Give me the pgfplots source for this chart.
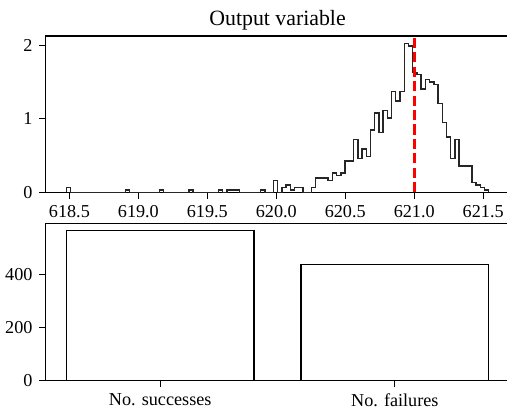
\documentclass[border=0pt]{standalone}
\usepackage{fontspec}
\setmainfont{Liberation Serif}
\usepackage{pgfplots}
\pgfplotsset{compat=1.18}
\begin{document}
\begin{tikzpicture}
\pgfplotsset{
  every axis/.append style={
    scale only axis,
    axis line style={line width=0.7pt},
    tick align=outside,
    major tick length=3.5pt,
    every tick/.style={black, line width=0.7pt},
    tick pos=left,
    tick label style={font=\fontsize{10}{12}\selectfont},
    /pgf/number format/assume math mode=true,
  }
}
\begin{axis}[
  at={(24.9pt,118.6pt)}, anchor=south west,
  width=255.5pt, height=86pt,
  xmin=618.325, xmax=621.693, ymin=0, ymax=2.126,
  xtick={618.5,619,619.5,620,620.5,621,621.5},
  xticklabel style={/pgf/number format/.cd, fixed, fixed zerofill, precision=1, 1000 sep={}},
  ytick={0,1,2},
  title={Output variable},
  title style={font=\fontsize{12}{14}\selectfont, at={(0.5,1)}, anchor=base, yshift=-0.5pt, inner sep=0pt},
]
\addplot[const plot, black!85, line width=0.8pt] coordinates {
(618.478,0) (618.478,0.065) (618.509,0) (618.907,0.033) (618.937,0)
(619.152,0.033) (619.182,0) (619.366,0.033) (619.397,0) (619.580,0.033)
(619.611,0) (619.642,0.033) (619.733,0) (619.887,0.033) (619.917,0)
(619.978,0.163) (620.009,0) (620.040,0.065) (620.070,0.098) (620.101,0.033)
(620.131,0.065) (620.193,0) (620.254,0.065) (620.285,0.196) (620.376,0.163)
(620.407,0.261) (620.438,0.229) (620.468,0.261) (620.499,0.425) (620.560,0.718)
(620.591,0.457) (620.621,0.588) (620.652,0.490) (620.683,0.849) (620.713,1.078)
(620.744,0.816) (620.774,1.110) (620.805,1.012) (620.836,1.372) (620.866,1.241)
(620.897,1.372) (620.928,2.025) (620.958,1.992) (620.989,1.633) (621.019,1.600)
(621.050,1.404) (621.081,1.535) (621.111,1.502) (621.142,1.470) (621.173,1.208)
(621.203,0.947) (621.234,0.751) (621.264,0.457) (621.295,0.718) (621.326,0.359)
(621.418,0.131) (621.448,0.098) (621.479,0.065) (621.509,0.033) (621.540,0)
};
\addplot[red, line width=1.5pt, dash pattern=on 5.55pt off 2.4pt] coordinates {(621,0) (621,2.126)};
\end{axis}
\begin{axis}[
  at={(24.9pt,15pt)}, anchor=south west,
  width=255.5pt, height=86.6pt,
  xmin=-0.49, xmax=1.49, ymin=0, ymax=591.15,
  xtick={0,1}, xticklabels={No. successes, No. failures},
  ytick={0,200,400},
  ybar, bar width=0.8,
]
\addplot[fill=white, draw=black, line width=0.7pt] coordinates {(0,563) (1,437)};
\end{axis}
\pgfresetboundingbox
\useasboundingbox (0,0) rectangle (278.85pt,224.4pt);
\end{tikzpicture}
\end{document}
